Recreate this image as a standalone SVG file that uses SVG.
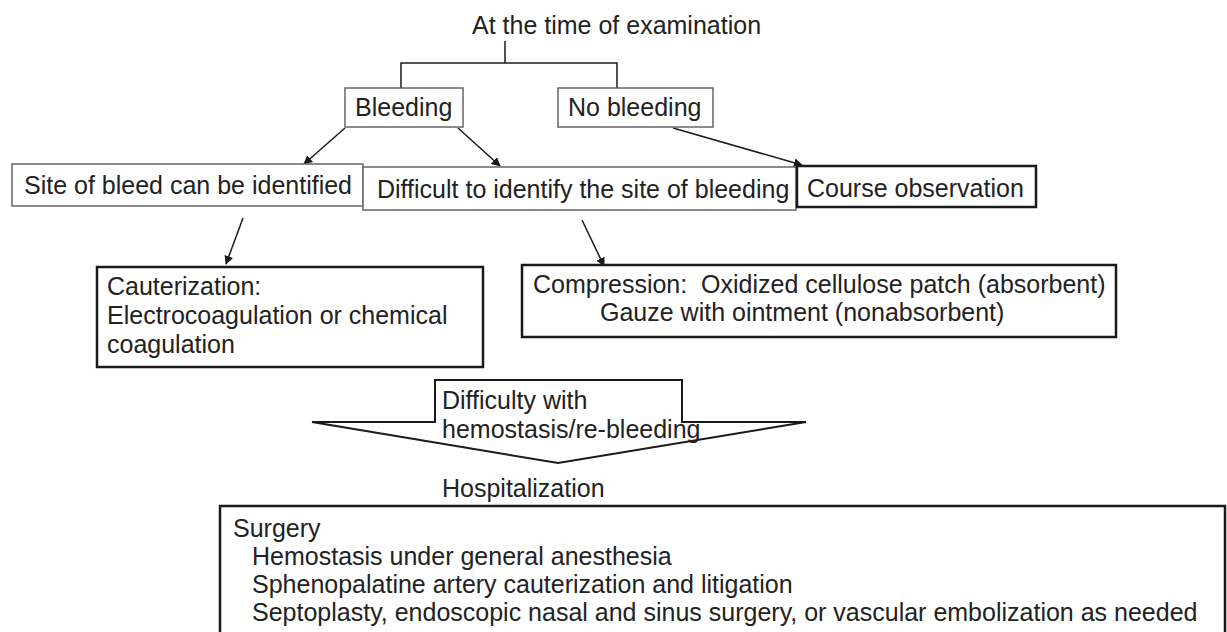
<svg xmlns="http://www.w3.org/2000/svg" width="1227" height="632" viewBox="0 0 1227 632">
<defs>
<marker id="ah" viewBox="0 0 10 10" refX="9" refY="5" markerWidth="9" markerHeight="9" markerUnits="userSpaceOnUse" orient="auto">
<path d="M0,0 L10,5 L0,10 z" fill="#1a1a1a"/>
</marker>
</defs>
<style>
text{font-family:"Liberation Sans",Arial,sans-serif;font-size:25px;fill:#222}
.thin{fill:#fff;stroke:#666;stroke-width:1.5}
.thick{fill:#fff;stroke:#1a1a1a;stroke-width:2.5}
.con{fill:none;stroke:#1a1a1a;stroke-width:1.5}
.arr{fill:none;stroke:#1a1a1a;stroke-width:1.5;marker-end:url(#ah)}
</style>
<rect width="1227" height="632" fill="#fff"/>
<g id="connectors">
<polyline class="con" points="505,41 505,63"/>
<polyline class="con" points="401,88 401,63 617,63 617,88"/>
<line class="arr" x1="345" y1="128" x2="304" y2="164"/>
<line class="arr" x1="458" y1="128" x2="500" y2="166"/>
<line class="arr" x1="673" y1="128" x2="802" y2="165"/>
<line class="arr" x1="243" y1="218" x2="226" y2="264"/>
<line class="arr" x1="582" y1="220" x2="604" y2="266"/>
</g>
<g id="n_exam"><text x="472" y="34">At the time of examination</text></g>
<g id="n_bleeding"><rect class="thin" x="345" y="88" width="118" height="39"/><text x="355" y="116">Bleeding</text></g>
<g id="n_nobleeding"><rect class="thin" x="558" y="88" width="155" height="39"/><text x="568" y="116">No bleeding</text></g>
<g id="n_site"><rect class="thin" x="12" y="164" width="351" height="42"/><text x="24" y="194">Site of bleed can be identified</text></g>
<g id="n_difficult"><rect class="thin" x="363" y="167" width="433" height="43"/><text x="377" y="198">Difficult to identify the site of bleeding</text></g>
<g id="n_course"><rect class="thick" x="797" y="166" width="239" height="41"/><text x="807" y="197">Course observation</text></g>
<g id="n_cauter"><rect class="thick" x="97" y="267" width="386" height="100"/>
<text x="107" y="295">Cauterization:</text>
<text x="107" y="324">Electrocoagulation or chemical</text>
<text x="107" y="353">coagulation</text></g>
<g id="n_compress"><rect class="thick" x="522" y="265" width="594" height="72"/>
<text x="533" y="293" xml:space="preserve">Compression:  Oxidized cellulose patch (absorbent)</text>
<text x="600" y="321">Gauze with ointment (nonabsorbent)</text></g>
<g id="n_difficulty"><path d="M312,422 L435,422 L435,380 L682,380 L682,422 L806,422 L558,463 Z" fill="#fff" stroke="#1a1a1a" stroke-width="2"/>
<text x="442" y="409">Difficulty with</text>
<text x="442" y="438">hemostasis/re-bleeding</text></g>
<g id="n_hosp"><text x="442" y="497">Hospitalization</text></g>
<g id="n_surgery"><rect class="thick" x="220" y="506" width="1005" height="140"/>
<text x="233" y="537">Surgery</text>
<text x="252" y="565">Hemostasis under general anesthesia</text>
<text x="252" y="593">Sphenopalatine artery cauterization and litigation</text>
<text x="252" y="621">Septoplasty, endoscopic nasal and sinus surgery, or vascular embolization as needed</text></g>
</svg>
